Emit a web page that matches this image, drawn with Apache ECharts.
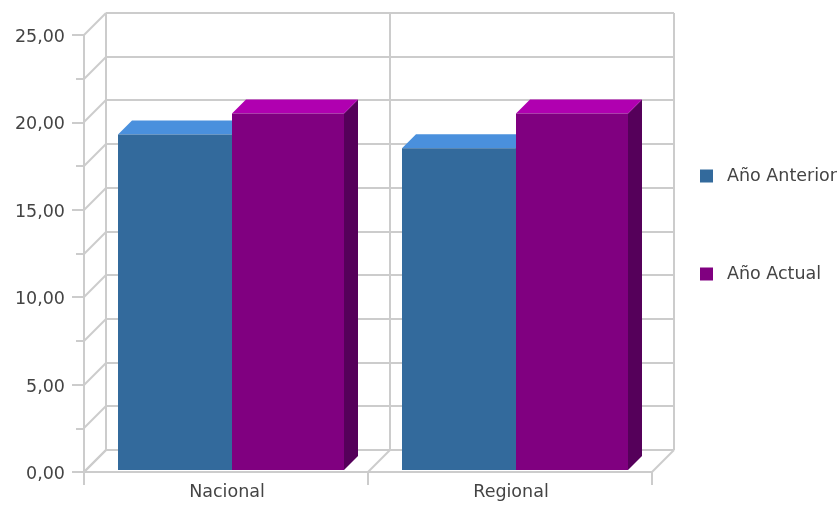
<!DOCTYPE html>
<html><head><meta charset="utf-8">
<style>html,body{margin:0;padding:0;background:#fff}#c{width:840px;height:507px}</style>
<script src="https://cdn.jsdelivr.net/npm/echarts@6/dist/echarts.min.js"></script>
</head><body><div id="c"></div>
<script>
const categories = ['Nacional', 'Regional'];
const anterior = [19.2, 18.4];
const actual = [20.4, 20.4];
const wallValues = [0, 2.5, 5, 7.5, 10, 12.5, 15, 17.5, 20, 22.5, 25];
const wallCats = [0, 1, 2];

const WALL = 22, DEPTH = 14, LIFT = 2, LINE = '#cccccc', TEXT = '#444444', FONT = 'DejaVu Sans';

function wallItem(params, api) {
  const v = api.value(0);
  const bandW = api.size([1, 0])[0];
  const bandL = api.coord([0, 0])[0] - bandW / 2;
  const p = api.coord([0, v]);
  const x0 = bandL, x1 = bandL + bandW * 2, y = Math.round(p[1]);
  const ls = {stroke: LINE, lineWidth: 2, fill: null};
  return {type: 'group', silent: true, children: [
    {type: 'line', shape: {x1: x0, y1: y, x2: x0 + WALL, y2: y - WALL}, style: ls},
    {type: 'line', shape: {x1: x0 + WALL, y1: y - WALL, x2: x1 + WALL, y2: y - WALL}, style: ls}
  ]};
}
function columnItem(params, api) {
  const c = api.value(0);
  const bandW = api.size([1, 0])[0];
  const left = api.coord([c, 0])[0] - bandW / 2;
  const baseY = api.coord([c, 0])[1] - LIFT;
  const top = api.coord([c, api.value(1)])[1] - LIFT;
  return {left, bandW, baseY, top, c};
}
function bar3d(offset, width, front, roof, side) {
  return function (params, api) {
    const b = columnItem(params, api);
    const x = b.left + offset, r = x + width;
    const poly = (pts, fill) => ({type: 'polygon', shape: {points: pts}, style: {fill, stroke: null}});
    return {type: 'group', children: [
      poly([[r, b.baseY], [r + DEPTH, b.baseY - DEPTH], [r + DEPTH, b.top - DEPTH], [r, b.top]], side),
      poly([[x, b.top], [x + DEPTH, b.top - DEPTH], [r + DEPTH, b.top - DEPTH], [r, b.top]], roof),
      {type: 'rect', shape: {x, y: b.top, width, height: b.baseY - b.top}, style: {fill: front}}
    ]};
  };
}
function wallVertical(params, api) {
  const i = api.value(0);
  const bandW = api.size([1, 0])[0];
  const x = api.coord([0, 0])[0] - bandW / 2 + i * bandW;
  const y0 = api.coord([0, 0])[1], y1 = api.coord([0, 25])[1];
  return {type: 'group', silent: true, children: [
    {type: 'line', shape: {x1: x + WALL, y1: y0 - WALL, x2: x + WALL, y2: y1 - WALL}, style: {stroke: LINE, lineWidth: 2}},
    {type: 'line', shape: {x1: x, y1: y0, x2: x + WALL, y2: y0 - WALL}, style: {stroke: LINE, lineWidth: 2}}
  ]};
}
const chart = echarts.init(document.getElementById('c'), null, {renderer: 'canvas'});
chart.setOption({
  animation: false,
  backgroundColor: '#fff',
  grid: {left: 84, right: 188, top: 35, bottom: 35},
  legend: {
    orient: 'vertical', left: 695, top: 162, itemWidth: 13, itemHeight: 13, itemGap: 80,
    icon: 'rect', data: ['Año Anterior', 'Año Actual'],
    textStyle: {fontFamily: FONT, fontSize: 17.5, color: TEXT, padding: [0, 0, 0, 9]}
  },
  xAxis: {
    type: 'category', data: categories,
    axisLine: {lineStyle: {color: LINE, width: 2}},
    axisTick: {show: true, length: 13, lineStyle: {color: LINE, width: 2}},
    axisLabel: {fontFamily: FONT, fontSize: 17.5, color: TEXT, margin: 0, padding: [11, 0, 0, 2]},
    splitLine: {show: false}
  },
  yAxis: {
    type: 'value', min: 0, max: 25, interval: 5,
    axisLine: {show: true, lineStyle: {color: LINE, width: 2}},
    axisTick: {show: true, length: 12, lineStyle: {color: LINE, width: 2}},
    minorTick: {show: true, splitNumber: 2, length: 8, lineStyle: {color: LINE, width: 2}},
    splitLine: {show: false}, minorSplitLine: {show: false},
    axisLabel: {fontFamily: FONT, fontSize: 17.5, color: TEXT, margin: 19, verticalAlign: 'top', lineHeight: 5,
      formatter: v => v.toFixed(2).replace('.', ',')}
  },
  series: [
    {type: 'custom', silent: true, z: 1, renderItem: wallItem, data: wallValues.map(v => [v]), encode: {y: 0}, clip: false, tooltip: {show: false}},
    {type: 'custom', silent: true, z: 1, renderItem: wallVertical, data: wallCats.map(v => [v]), encode: {x: 0}, clip: false, tooltip: {show: false}},
    {name: 'Año Anterior', type: 'custom', z: 3, clip: false, itemStyle: {color: '#336a9c'},
     renderItem: bar3d(34, 114, '#336a9c', '#4a90dd', '#234a6d'),
     data: anterior.map((v, i) => [i, v]), encode: {x: 0, y: 1}},
    {name: 'Año Actual', type: 'custom', z: 4, clip: false, itemStyle: {color: '#800080'},
     renderItem: bar3d(148, 112, '#800080', '#b000b0', '#55005a'),
     data: actual.map((v, i) => [i, v]), encode: {x: 0, y: 1}}
  ]
});
</script></body></html>
